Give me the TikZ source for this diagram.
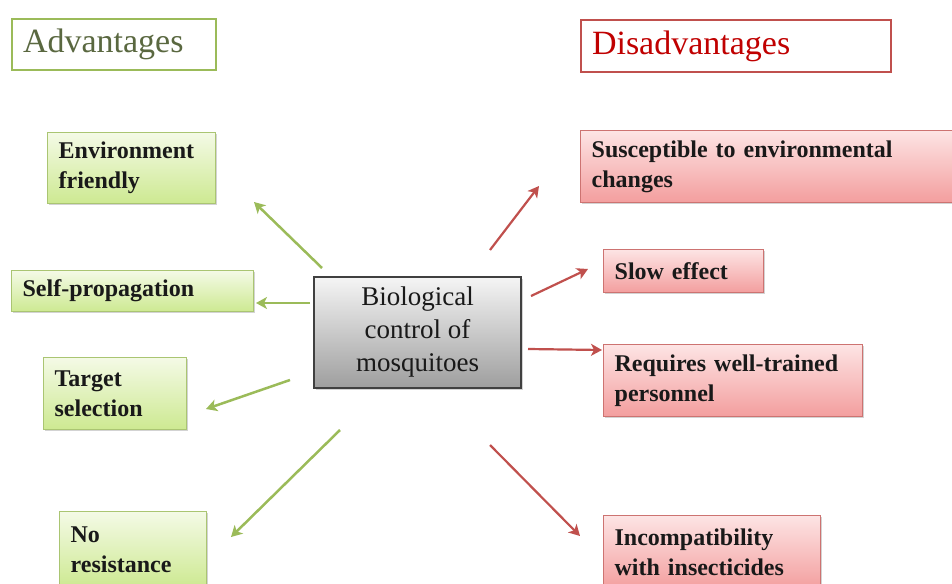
\documentclass[tikz,border=0pt]{standalone}
\usepackage{fontspec}
\setmainfont{Liberation Serif}
\usetikzlibrary{arrows.meta,shadows}

\definecolor{advgreen}{RGB}{155,187,89}
\definecolor{advtext}{RGB}{90,104,64}
\definecolor{protop}{RGB}{244,250,230}
\definecolor{probot}{RGB}{205,233,145}
\definecolor{disred}{RGB}{192,80,77}
\definecolor{distext}{RGB}{192,0,0}
\definecolor{contop}{RGB}{253,228,228}
\definecolor{conbot}{RGB}{243,158,158}
\definecolor{boxtext}{RGB}{25,25,25}

\begin{document}
\begin{tikzpicture}[x=1pt, y=-1pt,
  head/.style={rectangle, line width=2pt, fill=white, inner xsep=11pt, inner ysep=0pt,
               align=left, anchor=north west, font=\fontsize{34}{38}\selectfont},
  pro/.style={rectangle, draw=advgreen!85, line width=1.3pt, top color=protop, bottom color=probot,
              drop shadow={shadow xshift=1.5pt, shadow yshift=-1.5pt, opacity=0.35},
              inner xsep=11pt, inner ysep=0pt, align=left, anchor=north west,
              text=boxtext, font=\bfseries\fontsize{24}{30}\selectfont},
  con/.style={pro, draw=disred!80, top color=contop, bottom color=conbot},
  hub/.style={rectangle, draw=black!75, line width=1.5pt, top color=black!4, bottom color=black!38,
              drop shadow={shadow xshift=1.5pt, shadow yshift=-1.5pt, opacity=0.35},
              align=center, text=boxtext, font=\fontsize{27}{33}\selectfont},
  advarrow/.style={draw=advgreen, line width=2.5pt, -{Stealth[length=11pt, width=12pt, inset=3pt]}},
  disarrow/.style={draw=disred, line width=2.2pt, -{Stealth[length=11pt, width=12pt, inset=3pt]}}
]
  \useasboundingbox (0,0) rectangle (952,583);

  % ---- headings ----
  \node[head, draw=advgreen, text=advtext, text width=182pt, minimum height=51pt] (advhead) at (11,18) {Advantages};
  \node[head, draw=disred, text=distext, text width=288pt, minimum height=52pt] (dishead) at (580,19) {Disadvantages};

  % ---- centre ----
  \node[hub, minimum width=207pt, minimum height=111pt] (bio) at (417.5,332.5) {Biological\\control of\\mosquitoes};

  % ---- advantages ----
  \node[pro, text width=146pt, minimum height=71pt] (envf)   at (47,132)  {Environment\\friendly};
  \node[pro, text width=220pt, minimum height=41pt] (selfp)  at (11,270)  {Self-propagation};
  \node[pro, text width=121pt, minimum height=72pt] (target) at (43,357)  {Target\\selection};
  \node[pro, text width=125pt, minimum height=76pt] (nores)  at (59,511)  {No\\resistance};

  % ---- disadvantages ----
  \node[con, text width=368pt, minimum height=72pt] (suscep) at (580,130) {Susceptible to environmental\\changes};
  \node[con, text width=138pt, minimum height=43pt] (slow)   at (603,249) {Slow effect};
  \node[con, text width=237pt, minimum height=72pt] (staff)  at (603,344) {Requires well-trained\\personnel};
  \node[con, text width=195pt, minimum height=74pt] (incomp) at (603,515) {Incompatibility\\with insecticides};

  % ---- arrow ends ----
  \coordinate (envf0)   at (322,268); \coordinate (envf1)   at (254,202);
  \coordinate (selfp0)  at (310,303); \coordinate (selfp1)  at (256,303);
  \coordinate (target0) at (290,380); \coordinate (target1) at (206,409);
  \coordinate (nores0)  at (340,430); \coordinate (nores1)  at (231,537);
  \coordinate (suscep0) at (490,250); \coordinate (suscep1) at (539,186);
  \coordinate (slow0)   at (531,296); \coordinate (slow1)   at (588,269);
  \coordinate (staff0)  at (528,349); \coordinate (staff1)  at (602,350);
  \coordinate (incomp0) at (490,445); \coordinate (incomp1) at (580,536);

  % ---- arrows ----
  \draw[advarrow] (envf0)   -- (envf1);
  \draw[advarrow] (selfp0)  -- (selfp1);
  \draw[advarrow] (target0) -- (target1);
  \draw[advarrow] (nores0)  -- (nores1);
  \draw[disarrow] (suscep0) -- (suscep1);
  \draw[disarrow] (slow0)   -- (slow1);
  \draw[disarrow] (staff0)  -- (staff1);
  \draw[disarrow] (incomp0) -- (incomp1);
\end{tikzpicture}
\end{document}
